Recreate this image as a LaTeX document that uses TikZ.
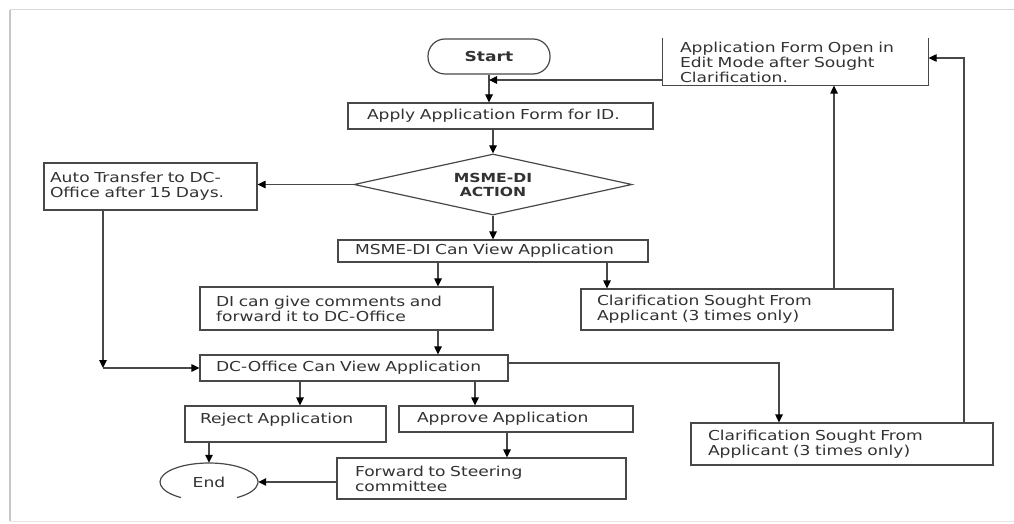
\documentclass[tikz,border=0pt]{standalone}
\usepackage{fontspec}
\setmainfont{DejaVu Sans}[FakeStretch=1.25]
\usetikzlibrary{positioning, arrows.meta, shapes.geometric}
\definecolor{inkgray}{RGB}{50,50,50}
\definecolor{linegray}{RGB}{72,72,72}

\begin{document}
\begin{tikzpicture}[
    x=1pt, y=1pt,
    font=\fontsize{13.7}{15}\selectfont,
    text=inkgray,
    box/.style={draw=linegray, line width=1.2pt, rectangle, align=left, inner ysep=2pt},
    arr/.style={-{Stealth[length=8pt, width=7.5pt, inset=0pt, color=black]}, draw=linegray, line width=1.2pt}
]
\useasboundingbox (0,0) rectangle (1014,523);

% frame
\draw[gray!45, line width=2pt] (10,2) -- (10,513);
\draw[gray!30, line width=1pt] (10,513) -- (1014,513);
\draw[gray!20, line width=1pt] (10,2) -- (1014,2);

\node[draw=linegray, line width=1.2pt, rectangle, rounded corners=17pt, minimum width=122pt, minimum height=35pt] (start)
    at (489,466.5) {\textbf{Start}};

\node[box, draw=none, text width=231pt, inner xsep=17pt, minimum height=46pt] (edit)
    at (795.5,461) {Application Form Open in\\ Edit Mode after Sought\\ Clarification.};
\draw[linegray, line width=1.2pt] (edit.north west) -- (edit.south west) -- (edit.south east) -- (edit.north east);

\node[box, text width=267pt, inner xsep=19pt, minimum height=26pt] (apply)
    at (500.5,407) {Apply Application Form for ID.};

\node[draw=linegray, line width=1.2pt, diamond, aspect=4.5, inner sep=0pt, minimum width=278pt, minimum height=61pt,
    align=center, font=\fontsize{12.5}{14}\selectfont\bfseries] (action)
    at (493,338.5) {MSME-DI\\ ACTION};

\node[box, text width=201pt, inner xsep=6pt, minimum height=47pt] (auto)
    at (150.5,336.5) {Auto Transfer to DC-\\ Office after 15 Days.};

\node[box, text width=276pt, inner xsep=17pt, minimum height=22pt, inner ysep=1pt] (msmeview)
    at (493,272) {MSME-DI Can View Application};

\node[box, text width=261pt, inner xsep=16pt, minimum height=43pt] (comments)
    at (346.5,214.5) {DI can give comments and\\ forward it to DC-Office};

\node[box, text width=280pt, inner xsep=16pt, minimum height=41pt] (clarone)
    at (737,213.5) {Clarification Sought From\\ Applicant (3 times only)};

\node[box, text width=276pt, inner xsep=16pt, minimum height=26pt] (dcview)
    at (354,155) {DC-Office Can View Application};

\node[box, text width=171pt, inner xsep=15pt, inner ysep=3pt, text height=14pt, text depth=16pt] (reject)
    at (285.5,99) {Reject Application};

\node[box, text width=198pt, inner xsep=18pt, minimum height=26pt] (approve)
    at (516,104) {Approve Application};

\node[box, text width=268pt, inner xsep=17pt, minimum height=42pt] (clartwo)
    at (842,79) {Clarification Sought From\\ Applicant (3 times only)};

\node[box, text width=253pt, inner xsep=18pt, minimum height=41pt] (forward)
    at (481.5,44.5) {Forward to Steering\\ committee};

\node[ellipse, minimum width=98pt, minimum height=38pt] (end)
    at (209,41) {End};
\draw[linegray, line width=1.2pt] (end.center) ++(235:49pt and 19pt) arc[start angle=235, end angle=-55, x radius=49pt, y radius=19pt];

\coordinate (join) at (489,443);
\coordinate (bend) at ([xshift=-47.5pt]auto.south |- dcview.west);

\draw[arr] (start.south) -- (start.south |- apply.north);
\draw[arr] (edit.west |- join) -- (join);
\draw[arr] (apply.south -| action.north) -- (action.north);
\draw[arr] (action.west) -- (action.west -| auto.east);
\draw[arr] (action.south) -- (msmeview.north);
\draw[arr] ([xshift=-55pt]msmeview.south) -- ([xshift=-55pt]msmeview.south |- comments.north);
\draw[arr] ([xshift=114pt]msmeview.south) -- ([xshift=114pt]msmeview.south |- clarone.north);
\draw[arr] ([xshift=97pt]clarone.north) -- ([xshift=97pt]clarone.north |- edit.south);
\draw[arr] ([xshift=91.5pt]comments.south) -- ([xshift=91.5pt]comments.south |- dcview.north);
\draw[arr] ([xshift=-47.5pt]auto.south) -- (bend);
\draw[arr] (bend) -- (dcview.west);
\draw[arr] ([yshift=5pt]dcview.east) -| ([xshift=-63pt]clartwo.north);
\draw[arr] ([xshift=122pt]clartwo.north) |- ([yshift=4pt]edit.east);
\draw[arr] ([xshift=-54pt]dcview.south) -- ([xshift=-54pt]dcview.south |- reject.north);
\draw[arr] ([xshift=121pt]dcview.south) -- ([xshift=121pt]dcview.south |- approve.north);
\draw[arr] ([xshift=-9pt]approve.south) -- ([xshift=-9pt]approve.south |- forward.north);
\draw[arr] (reject.south -| end.north) -- (end.north);
\draw[arr] (forward.west |- end.east) -- (end.east);

\end{tikzpicture}
\end{document}
